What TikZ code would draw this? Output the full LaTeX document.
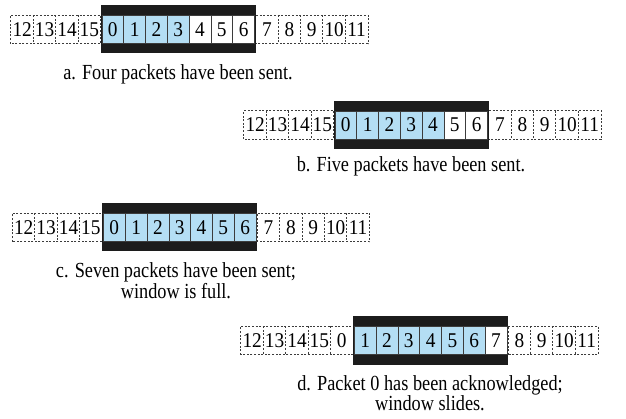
\documentclass[tikz,border=0pt]{standalone}
\usepackage{fontspec}
\setmainfont{Liberation Serif}
\newfontfamily\capfont[FakeStretch=0.85]{Liberation Serif}
\newfontfamily\numfont[FakeStretch=0.92]{Liberation Serif}
\definecolor{pktblue}{RGB}{180,222,244}
\definecolor{winblack}{RGB}{28,28,28}
\definecolor{cellline}{RGB}{60,60,60}
\tikzset{
  dcell/.style={minimum width=22.4pt,minimum height=28pt,inner sep=0pt,font=\numfont\fontsize{21}{21}\selectfont},
  wcell/.style={draw=cellline,line width=0.6pt,minimum width=21.8pt,minimum height=28pt,inner sep=0pt,font=\numfont\fontsize{21}{21}\selectfont},
  sent/.style={wcell,fill=pktblue},
  unsent/.style={wcell,fill=white},
  winbar/.style={fill=winblack,minimum width=155.2pt,minimum height=48pt,inner sep=0pt},
  dsh/.style={draw=cellline,line width=0.8pt,dash pattern=on 2pt off 1.6pt},
  captext/.style={anchor=base,inner sep=0pt,font=\capfont\fontsize{21.5}{21.5}\selectfont}
}
\begin{document}
\begin{tikzpicture}[x=1pt,y=-1pt]
\useasboundingbox (0,0) rectangle (626,419);
\def\dw{22.4}\def\cw{21.8}
%% ---------- row a ----------
\def\xo{11}\def\yc{29.5}
\foreach \lab [count=\i from 0] in {12,13,14,15}
  \node[dcell] (a-\lab) at ({\xo+\dw*\i+\dw/2},\yc) {\lab};
\foreach \lab [count=\i from 0] in {7,8,9,10,11}
  \node[dcell] (a-\lab) at ({\xo+4*\dw+155.2+\dw*\i+\dw/2},\yc) {\lab};
\draw[dsh] (a-12.south west) rectangle (a-15.north east);
\draw[dsh] (a-7.south west) rectangle (a-11.north east);
\foreach \lab in {13,14,15,8,9,10,11}
  \draw[dsh] (a-\lab.north west) -- (a-\lab.south west);
\node[winbar] (a-win) at ({\xo+4*\dw+77.6},\yc) {};
\foreach \lab in {0,...,3}
  \node[sent] (a-w\lab) at ({\xo+4*\dw+1.3+\cw*\lab+\cw/2},\yc) {\lab};
\foreach \lab in {4,5,6}
  \node[unsent] (a-w\lab) at ({\xo+4*\dw+1.3+\cw*\lab+\cw/2},\yc) {\lab};
\node[captext] (capa) at (178,80) {a. Four packets have been sent.};
%% ---------- row b ----------
\def\xo{244}\def\yc{125}
\foreach \lab [count=\i from 0] in {12,13,14,15}
  \node[dcell] (b-\lab) at ({\xo+\dw*\i+\dw/2},\yc) {\lab};
\foreach \lab [count=\i from 0] in {7,8,9,10,11}
  \node[dcell] (b-\lab) at ({\xo+4*\dw+155.2+\dw*\i+\dw/2},\yc) {\lab};
\draw[dsh] (b-12.south west) rectangle (b-15.north east);
\draw[dsh] (b-7.south west) rectangle (b-11.north east);
\foreach \lab in {13,14,15,8,9,10,11}
  \draw[dsh] (b-\lab.north west) -- (b-\lab.south west);
\node[winbar] (b-win) at ({\xo+4*\dw+77.6},\yc) {};
\foreach \lab in {0,...,4}
  \node[sent] (b-w\lab) at ({\xo+4*\dw+1.3+\cw*\lab+\cw/2},\yc) {\lab};
\foreach \lab in {5,6}
  \node[unsent] (b-w\lab) at ({\xo+4*\dw+1.3+\cw*\lab+\cw/2},\yc) {\lab};
\node[captext] (capb) at (411,172) {b. Five packets have been sent.};
%% ---------- row c ----------
\def\xo{12.5}\def\yc{227.5}
\foreach \lab [count=\i from 0] in {12,13,14,15}
  \node[dcell] (c-\lab) at ({\xo+\dw*\i+\dw/2},\yc) {\lab};
\foreach \lab [count=\i from 0] in {7,8,9,10,11}
  \node[dcell] (c-\lab) at ({\xo+4*\dw+155.2+\dw*\i+\dw/2},\yc) {\lab};
\draw[dsh] (c-12.south west) rectangle (c-15.north east);
\draw[dsh] (c-7.south west) rectangle (c-11.north east);
\foreach \lab in {13,14,15,8,9,10,11}
  \draw[dsh] (c-\lab.north west) -- (c-\lab.south west);
\node[winbar] (c-win) at ({\xo+4*\dw+77.6},\yc) {};
\foreach \lab in {0,...,6}
  \node[sent] (c-w\lab) at ({\xo+4*\dw+1.3+\cw*\lab+\cw/2},\yc) {\lab};
\node[captext] (capc1) at (176,278) {c. Seven packets have been sent;};
\node[captext] (capc2) at (176,298.5) {window is full.};
%% ---------- row d ----------
\def\xo{241}\def\yc{340.5}
\foreach \lab [count=\i from 0] in {12,13,14,15,0}
  \node[dcell] (d-\lab) at ({\xo+\dw*\i+\dw/2},\yc) {\lab};
\foreach \lab [count=\i from 0] in {8,9,10,11}
  \node[dcell] (d-\lab) at ({\xo+5*\dw+155.2+\dw*\i+\dw/2},\yc) {\lab};
\draw[dsh] (d-12.south west) rectangle (d-0.north east);
\draw[dsh] (d-8.south west) rectangle (d-11.north east);
\foreach \lab in {13,14,15,0,9,10,11}
  \draw[dsh] (d-\lab.north west) -- (d-\lab.south west);
\node[winbar] (d-win) at ({\xo+5*\dw+77.6},\yc) {};
\foreach \lab in {1,...,6}
  \node[sent] (d-w\lab) at ({\xo+5*\dw+1.3+\cw*(\lab-1)+\cw/2},\yc) {\lab};
\node[unsent] (d-w7) at ({\xo+5*\dw+1.3+\cw*6+\cw/2},\yc) {7};
\node[captext] (capd1) at (430,390) {d. Packet 0 has been acknowledged;};
\node[captext] (capd2) at (430,410.5) {window slides.};
\end{tikzpicture}
\end{document}
